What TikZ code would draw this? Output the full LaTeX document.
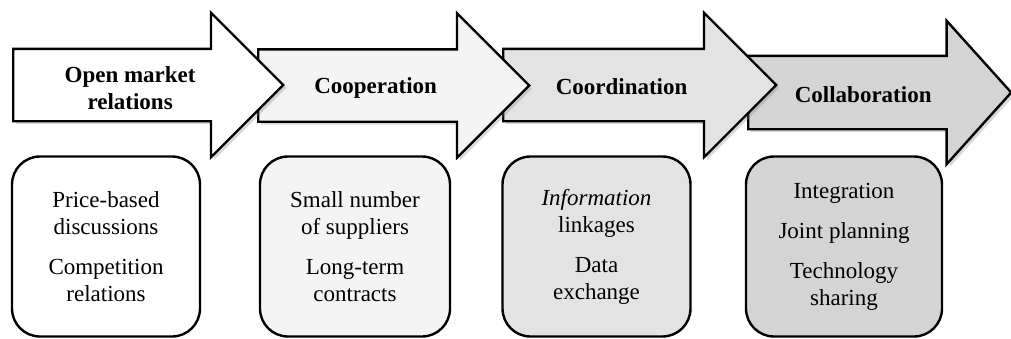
\documentclass[tikz,border=0pt]{standalone}
\usepackage{fontspec}
\setmainfont{Liberation Serif}
\usetikzlibrary{shapes.arrows,shadows}

\definecolor{stagetwo}{gray}{0.955}
\definecolor{stagethree}{gray}{0.89}
\definecolor{stagefour}{gray}{0.83}

\tikzset{
  stage/.style={single arrow, draw, line width=1.2pt,
    inner xsep=0pt, inner ysep=17.5pt,
    single arrow head extend=18pt,
    drop shadow={shadow xshift=1.5pt, shadow yshift=-1.5pt, opacity=0.3}},
  title/.style={font=\fontsize{11.5}{13.5}\selectfont\bfseries, align=center},
  practice/.style={draw, line width=1.2pt, rounded corners=14pt,
    minimum width=94pt, minimum height=90pt, align=center,
    font=\fontsize{11.5}{13.5}\selectfont},
}

\begin{document}
\begin{tikzpicture}[x=0.5pt,y=-0.5pt]
    \useasboundingbox (0,0) rectangle (1011,338);

    % Arrows (last one first, so each one lies over the next)
    \node[stage, fill=stagefour, minimum height=131.5pt, inner ysep=17.75pt,
      single arrow head extend=17.5pt, single arrow tip angle=96, anchor=tail] (collab) at (747,92.5) {};
    \node[stage, fill=stagethree, minimum height=136.5pt, anchor=tail] (coord) at (502,85) {};
    \node[stage, fill=stagetwo, minimum height=135.5pt, anchor=tail] (coop) at (257,85.5) {};
    \node[stage, fill=white, minimum height=135pt, anchor=tail] (open) at (12,85) {};

    % Titles
    \node[title] (open-t) at ([yshift=-1.5pt]open.center) {Open market\\relations};
    \node[title] (coop-t) at ([yshift=-1pt]coop.center) {Cooperation};
    \node[title] (coord-t) at ([yshift=-1pt]coord.center) {Coordination};
    \node[title] (collab-t) at ([yshift=-1.2pt]collab.center) {Collaboration};

    % Boxes
    \node[practice, fill=white] (open-b) at (106,246.5)
      {Price-based\\discussions\\[6.5pt]Competition\\relations};
    \node[practice, fill=stagetwo, minimum width=95pt] (coop-b) at (355,246.5)
      {Small number\\of suppliers\\[6.5pt]Long-term\\contracts};
    \node[practice, fill=stagethree] (coord-b) at (596.5,246.5)
      {\textit{Information}\\linkages\\[6.5pt]Data\\exchange};
    \node[practice, fill=stagefour, minimum width=98pt] (collab-b) at (844,246.5)
      {Integration\\[6.5pt]Joint planning\\[6.5pt]Technology\\sharing};

\end{tikzpicture}
\end{document}
